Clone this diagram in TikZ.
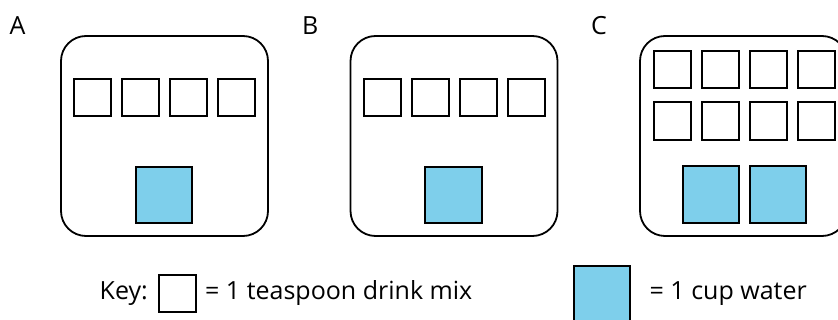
\documentclass[tikz,border=0pt]{standalone}
\usepackage{fontspec}
\setmainfont{Open Sans}
\definecolor{waterblue}{RGB}{126,207,235}
\begin{document}
\begin{tikzpicture}[x=1pt,y=-1pt,
  cup/.style={draw,line width=1.8pt,rounded corners=25pt,minimum width=207pt,minimum height=200pt,inner sep=0pt},
  mix/.style={draw,line width=1.6pt,minimum size=37.5pt,inner sep=0pt,fill=white},
  water/.style={draw,line width=1.6pt,minimum size=56.5pt,inner sep=0pt,fill=waterblue},
  lbl/.style={font=\fontsize{25}{29}\selectfont,anchor=base west,inner sep=0pt}]
\useasboundingbox (0,0) rectangle (838,320);
\clip (0,0) rectangle (838,320);
% panel labels
\node[lbl] (la) at (9.5,35) {A};
\node[lbl] (lb) at (302,35) {B};
\node[lbl] (lc) at (591,35) {C};
% cups
\node[cup] (cupA) at (164.5,136) {};
\node[cup] (cupB) at (454,136) {};
\node[cup] (cupC) at (743.5,136) {};
% drink mix squares
\foreach \i in {0,1,2,3} {
  \node[mix] (a\i) at ({92.5+48*\i},97.5) {};
  \node[mix] (b\i) at ({382.5+48*\i},97.5) {};
  \node[mix] (c\i) at ({672.5+48*\i},69.5) {};
  \node[mix] (d\i) at ({672.5+48*\i},121) {};
}
% water squares
\node[water] (wa) at (164,195) {};
\node[water] (wb) at (453.5,195) {};
\node[water] (wc1) at (711,194.5) {};
\node[water] (wc2) at (778,194.5) {};
% key
\node[lbl] (key) at (99.5,300) {Key:};
\node[mix] (keymix) at (177.5,293.5) {};
\node[lbl] (keymixt) at (205,300) {= 1 teaspoon drink mix};
\node[water] (keywater) at (602,294) {};
\node[lbl] (keywatert) at (649.5,300) {= 1 cup water};
\end{tikzpicture}
\end{document}
